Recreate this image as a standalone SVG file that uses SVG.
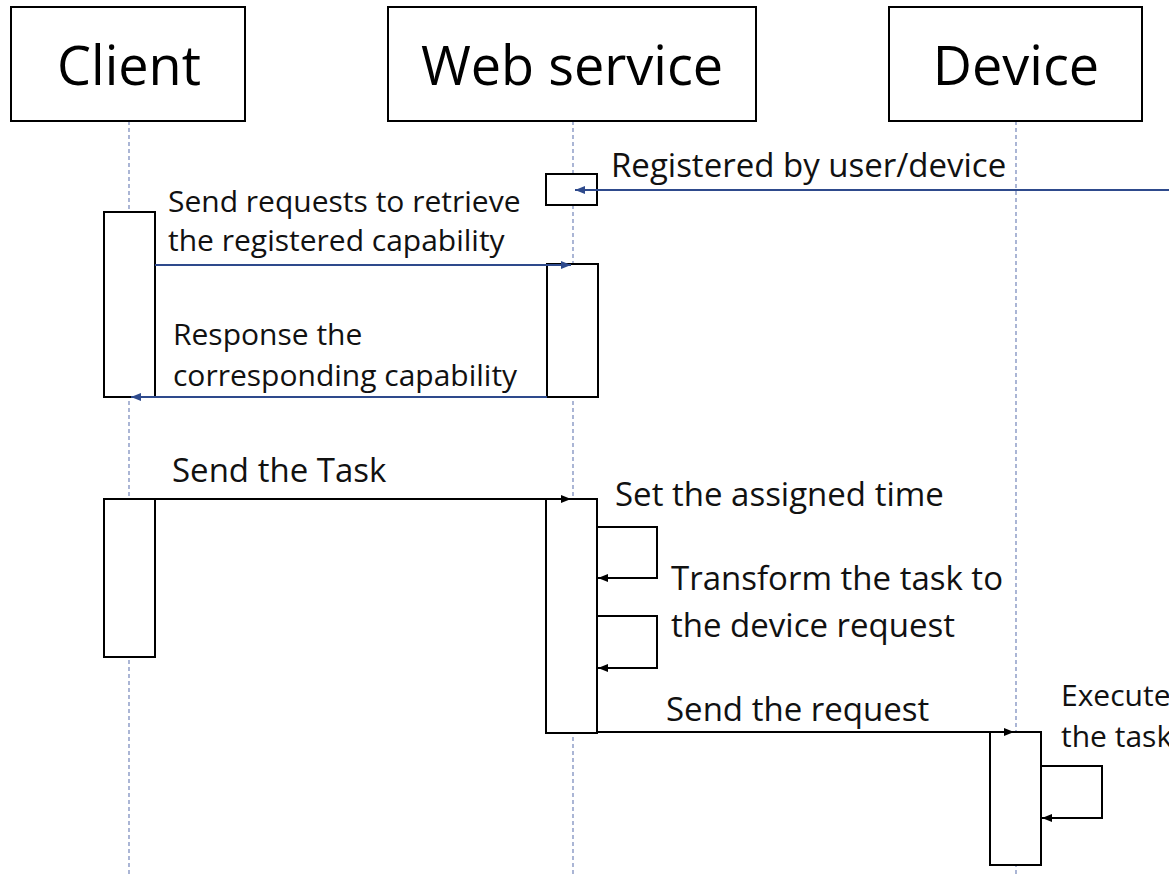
<svg xmlns="http://www.w3.org/2000/svg" width="1169" height="876" viewBox="0 0 1169 876">
<defs>
<marker id="ab" viewBox="0 0 10 10" refX="10" refY="5" markerWidth="10" markerHeight="10" markerUnits="userSpaceOnUse" orient="auto"><path d="M0,1 L10,5 L0,9 z" fill="#2E4A8C"/></marker>
<marker id="ak" viewBox="0 0 10 10" refX="10" refY="5" markerWidth="10" markerHeight="10" markerUnits="userSpaceOnUse" orient="auto"><path d="M0,1 L10,5 L0,9 z" fill="#000"/></marker>
</defs>
<style>
.box{fill:#fff;stroke:#000;stroke-width:2}
.act{fill:#fff;stroke:#000;stroke-width:2}
.life{stroke:#7E8FBF;stroke-width:1.3;stroke-dasharray:4,3;fill:none}
.title{font-family:"Open Sans","Noto Sans",sans-serif;font-size:54px;fill:#000;text-anchor:middle}
.lbl{font-family:"Open Sans","Noto Sans",sans-serif;font-size:33px;fill:#111}
.sm{font-size:30px}
.blue{stroke:#2E4A8C;stroke-width:2;fill:none}
.blk{stroke:#000;stroke-width:2;fill:none}
</style>
<rect width="1169" height="876" fill="#fff"/>
<g id="lifelines">
<line class="life" x1="129" y1="121" x2="129" y2="876"/>
<line class="life" x1="573" y1="121" x2="573" y2="876"/>
<line class="life" x1="1016" y1="121" x2="1016" y2="876"/>
</g>
<g id="client">
<rect class="box" x="11" y="7" width="234" height="114"/>
<text class="title" x="129" y="85">Client</text>
</g>
<g id="webservice">
<rect class="box" x="388" y="7" width="368" height="114"/>
<text class="title" x="572" y="85">Web service</text>
</g>
<g id="device">
<rect class="box" x="889" y="7" width="253" height="114"/>
<text class="title" x="1016" y="85">Device</text>
</g>
<g id="activations">
<rect class="act" x="546" y="174" width="51" height="31"/>
<rect class="act" x="104" y="212" width="51" height="185"/>
<rect class="act" x="547" y="264" width="51" height="133"/>
<rect class="act" x="104" y="499" width="51" height="158"/>
<rect class="act" x="546" y="499" width="51" height="234"/>
<rect class="act" x="990" y="732" width="51" height="133"/>
</g>
<g id="connectors">
<line class="blue" x1="1169" y1="190" x2="575" y2="190" marker-end="url(#ab)"/>
<line class="blue" x1="155" y1="265" x2="571" y2="265" marker-end="url(#ab)"/>
<line class="blue" x1="547" y1="397" x2="131" y2="397" marker-end="url(#ab)"/>
<line class="blk" x1="155" y1="499" x2="571" y2="499" marker-end="url(#ak)"/>
<polyline class="blk" points="597,527 657,527 657,578 598,578" marker-end="url(#ak)"/>
<polyline class="blk" points="597,616 657,616 657,668 598,668" marker-end="url(#ak)"/>
<line class="blk" x1="597" y1="732" x2="1014" y2="732" marker-end="url(#ak)"/>
<polyline class="blk" points="1041,766 1102,766 1102,818 1042,818" marker-end="url(#ak)"/>
</g>
<g id="labels">
<text class="lbl" x="611" y="177">Registered by user/device</text>
<text class="lbl sm" x="168" y="212">Send requests to retrieve</text>
<text class="lbl sm" x="168" y="251">the registered capability</text>
<text class="lbl sm" x="173" y="345">Response the</text>
<text class="lbl sm" x="173" y="386">corresponding capability</text>
<text class="lbl" x="172" y="482">Send the Task</text>
<text class="lbl" x="615" y="506">Set the assigned time</text>
<text class="lbl" x="671" y="590">Transform the task to</text>
<text class="lbl" x="671" y="637">the device request</text>
<text class="lbl" x="666" y="721">Send the request</text>
<text class="lbl sm" x="1061" y="706">Execute</text>
<text class="lbl sm" x="1061" y="747">the task</text>
</g>
</svg>
